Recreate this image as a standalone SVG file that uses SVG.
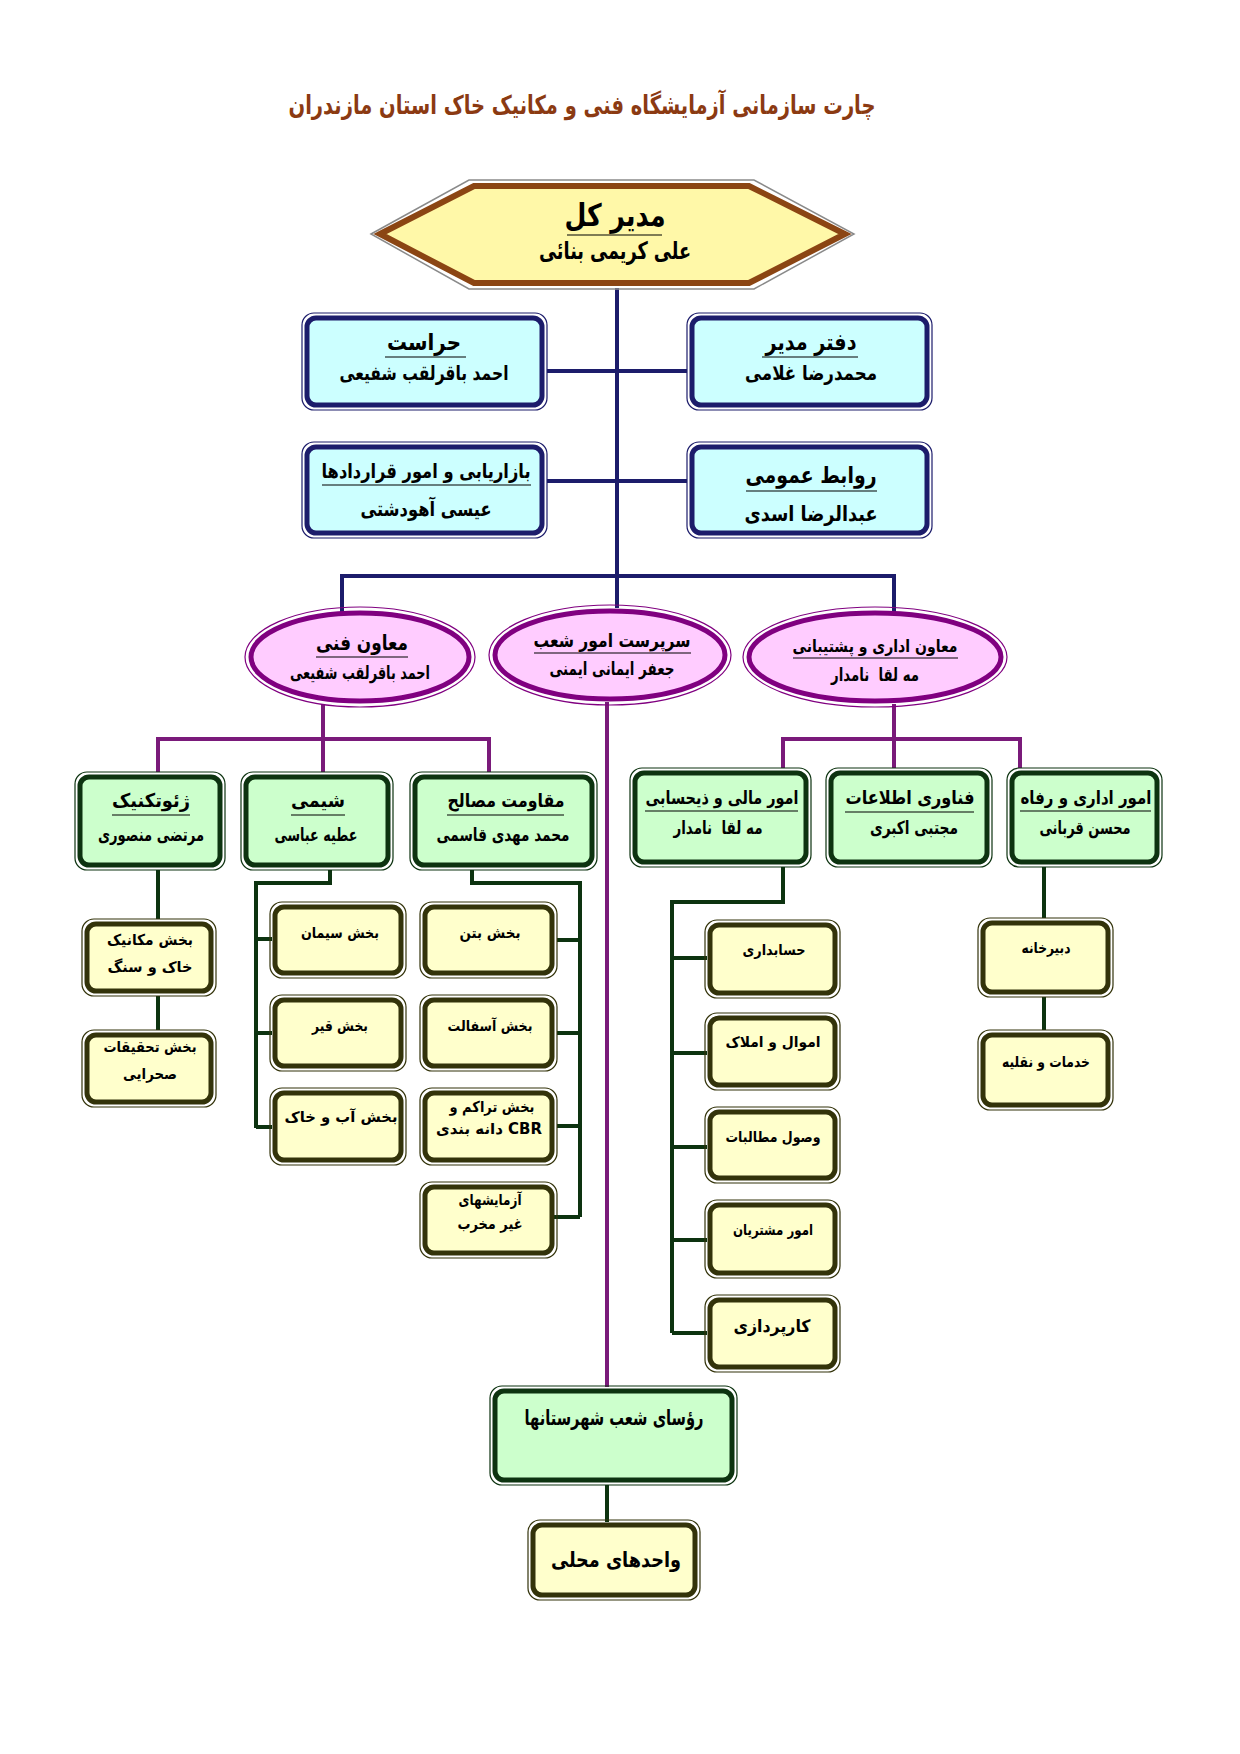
<svg xmlns="http://www.w3.org/2000/svg" width="1240" height="1754" viewBox="0 0 1240 1754">
<style>
.t{font-family:"DejaVu Sans",sans-serif;font-weight:bold;text-anchor:middle;fill:#000}
.ttl{font-size:26px;fill:#8b3a12}
.nv{stroke:#1c1c6b;stroke-width:4;fill:none}
.pu{stroke:#7a1a7a;stroke-width:4;fill:none}
.gr{stroke:#0d3310;stroke-width:4;fill:none}
.ul{stroke:#000;stroke-width:1.2}
.bo{fill:none;stroke:#1c1c6b;stroke-width:1.2}
.bi{fill:#ccffff;stroke:#1c1c6b;stroke-width:5}
.go{fill:none;stroke:#0d3310;stroke-width:1.2}
.gi{fill:#ccffcc;stroke:#0d3310;stroke-width:5}
.yo{fill:none;stroke:#33330a;stroke-width:1.2}
.yi{fill:#ffffcc;stroke:#33330a;stroke-width:5}
.po{fill:none;stroke:#800080;stroke-width:1.2}
.pi{fill:#ffccff;stroke:#800080;stroke-width:5}
.ho{fill:none;stroke:#8a8a8a;stroke-width:1.5}
.hi{fill:#fff8a8;stroke:#8b4513;stroke-width:6}
.s14{font-size:15px}
</style>
<rect width="1240" height="1754" fill="#fff"/>
<text class="t ttl" x="582" y="114" textLength="587" lengthAdjust="spacingAndGlyphs">چارت سازمانی آزمایشگاه فنی و مکانیک خاک استان مازندران</text>

<g id="connectors">
<path class="nv" d="M617 288V576M547 371H687M547 481H687M342 576H894M342 574V612M617 574V608M894 574V612"/>
<path class="pu" d="M323 704V739M158 739H489M158 737V772M323 737V772M489 737V772M607 702V1387M894 704V739M783 739H1020M783 737V768M894 737V768M1020 737V768"/>
<path class="gr" d="M158 870V919M158 996V1030M330 870V883H256V1128M256 939H272M256 1033H272M256 1127H272M472 870V883H580V1217M580 940H557M580 1033H557M580 1126H557M580 1217H552M783 867V902H672V1333M672 958H707M672 1053H707M672 1147H707M672 1240H707M672 1333H707M1044 867V918M1044 997V1030M607 1485V1522"/>
</g>

<g id="modir-kol">
<polygon class="ho" points="371,234 469,180 754,180 854,234 754,289 469,289"/>
<polygon class="hi" points="380,234 474,186 749,186 845,234 749,283 474,283"/>
<text class="t" x="615" y="226" font-size="31" textLength="101" lengthAdjust="spacingAndGlyphs">مدیر کل</text>
<line class="ul" x1="567" y1="235" x2="662" y2="235"/>
<text class="t" x="615" y="259" font-size="24" textLength="152" lengthAdjust="spacingAndGlyphs">علی کریمی بنائی</text>
</g>

<g id="herasat">
<rect class="bo" x="302" y="313" width="245" height="97" rx="12"/>
<rect class="bi" x="307" y="318" width="235" height="87" rx="9"/>
<text class="t" x="424" y="350" font-size="23" textLength="74" lengthAdjust="spacingAndGlyphs">حراست</text>
<line class="ul" x1="385" y1="357" x2="466" y2="357"/>
<text class="t" x="424" y="380" font-size="20" textLength="169" lengthAdjust="spacingAndGlyphs">احمد باقرلقب شفیعی</text>
</g>

<g id="daftar-modir">
<rect class="bo" x="687" y="313" width="245" height="97" rx="12"/>
<rect class="bi" x="692" y="318" width="235" height="87" rx="9"/>
<text class="t" x="811" y="350" font-size="23" textLength="91" lengthAdjust="spacingAndGlyphs">دفتر مدیر</text>
<line class="ul" x1="762" y1="357" x2="858" y2="357"/>
<text class="t" x="811" y="380" font-size="20" textLength="132" lengthAdjust="spacingAndGlyphs">محمدرضا غلامی</text>
</g>

<g id="bazaryabi">
<rect class="bo" x="302" y="442" width="245" height="96" rx="12"/>
<rect class="bi" x="307" y="447" width="235" height="86" rx="9"/>
<text class="t" x="426" y="478" font-size="20" textLength="209" lengthAdjust="spacingAndGlyphs">بازاریابی و امور قراردادها</text>
<line class="ul" x1="322" y1="485" x2="531" y2="485"/>
<text class="t" x="426" y="516" font-size="20" textLength="131" lengthAdjust="spacingAndGlyphs">عیسی آهودشتی</text>
</g>

<g id="ravabet">
<rect class="bo" x="687" y="442" width="245" height="96" rx="12"/>
<rect class="bi" x="692" y="447" width="235" height="86" rx="9"/>
<text class="t" x="811" y="483" font-size="23" textLength="131" lengthAdjust="spacingAndGlyphs">روابط عمومی</text>
<line class="ul" x1="746" y1="491" x2="877" y2="491"/>
<text class="t" x="811" y="521" font-size="21" textLength="133" lengthAdjust="spacingAndGlyphs">عبدالرضا اسدی</text>
</g>

<g id="moaven-fanni">
<ellipse class="po" cx="360" cy="657" rx="115" ry="50"/>
<ellipse class="pi" cx="360" cy="657" rx="109" ry="44"/>
<text class="t" x="362" y="650" font-size="21" textLength="92" lengthAdjust="spacingAndGlyphs">معاون فنی</text>
<line class="ul" x1="316" y1="657" x2="408" y2="657"/>
<text class="t" x="360" y="679" font-size="18" textLength="140" lengthAdjust="spacingAndGlyphs">احمد باقرلقب شفیعی</text>
</g>

<g id="sarparast">
<ellipse class="po" cx="610" cy="655" rx="121" ry="50"/>
<ellipse class="pi" cx="610" cy="655" rx="115" ry="44"/>
<text class="t" x="612" y="647" font-size="19" textLength="157" lengthAdjust="spacingAndGlyphs">سرپرست امور شعب</text>
<line class="ul" x1="534" y1="653" x2="691" y2="653"/>
<text class="t" x="612" y="675" font-size="18" textLength="125" lengthAdjust="spacingAndGlyphs">جعفر ایمانی ایمنی</text>
</g>

<g id="moaven-edari">
<ellipse class="po" cx="875" cy="657" rx="132" ry="50"/>
<ellipse class="pi" cx="875" cy="657" rx="126" ry="44"/>
<text class="t" x="875" y="652" font-size="17" textLength="165" lengthAdjust="spacingAndGlyphs">معاون اداری  و پشتیبانی</text>
<line class="ul" x1="793" y1="658" x2="958" y2="658"/>
<text class="t" x="875" y="681" font-size="18" xml:space="preserve" textLength="88" lengthAdjust="spacingAndGlyphs">مه لقا  نامدار</text>
</g>

<g id="geotechnic">
<rect class="go" x="75" y="772" width="150" height="98" rx="12"/>
<rect class="gi" x="80" y="777" width="140" height="88" rx="9"/>
<text class="t" x="151" y="807" font-size="19" textLength="78" lengthAdjust="spacingAndGlyphs">ژئوتکنیک</text>
<line class="ul" x1="112" y1="815" x2="190" y2="815"/>
<text class="t" x="151" y="841" font-size="18" textLength="106" lengthAdjust="spacingAndGlyphs">مرتضی منصوری</text>
</g>

<g id="shimi">
<rect class="go" x="241" y="772" width="152" height="98" rx="12"/>
<rect class="gi" x="246" y="777" width="142" height="88" rx="9"/>
<text class="t" x="318" y="807" font-size="19" textLength="54" lengthAdjust="spacingAndGlyphs">شیمی</text>
<line class="ul" x1="291" y1="815" x2="345" y2="815"/>
<text class="t" x="316" y="841" font-size="18" textLength="83" lengthAdjust="spacingAndGlyphs">عطیه عباسی</text>
</g>

<g id="moghavemat">
<rect class="go" x="410" y="772" width="187" height="98" rx="12"/>
<rect class="gi" x="415" y="777" width="177" height="88" rx="9"/>
<text class="t" x="506" y="807" font-size="19" textLength="117" lengthAdjust="spacingAndGlyphs">مقاومت مصالح</text>
<line class="ul" x1="447" y1="815" x2="564" y2="815"/>
<text class="t" x="503" y="841" font-size="18" textLength="133" lengthAdjust="spacingAndGlyphs">محمد مهدی قاسمی</text>
</g>

<g id="mali">
<rect class="go" x="630" y="768" width="181" height="99" rx="12"/>
<rect class="gi" x="635" y="773" width="171" height="89" rx="9"/>
<text class="t" x="722" y="804" font-size="18" textLength="153" lengthAdjust="spacingAndGlyphs">امور مالی و ذیحسابی</text>
<line class="ul" x1="645" y1="811" x2="798" y2="811"/>
<text class="t" x="718" y="834" font-size="18" xml:space="preserve" textLength="89" lengthAdjust="spacingAndGlyphs">مه لقا  نامدار</text>
</g>

<g id="fanavari">
<rect class="go" x="826" y="768" width="166" height="99" rx="12"/>
<rect class="gi" x="831" y="773" width="156" height="89" rx="9"/>
<text class="t" x="910" y="804" font-size="19" textLength="129" lengthAdjust="spacingAndGlyphs">فناوری اطلاعات</text>
<line class="ul" x1="845" y1="812" x2="974" y2="812"/>
<text class="t" x="914" y="834" font-size="18" textLength="88" lengthAdjust="spacingAndGlyphs">مجتبی اکبری</text>
</g>

<g id="edari-refah">
<rect class="go" x="1007" y="768" width="155" height="99" rx="12"/>
<rect class="gi" x="1012" y="773" width="145" height="89" rx="9"/>
<text class="t" x="1086" y="804" font-size="18" textLength="131" lengthAdjust="spacingAndGlyphs">امور اداری و رفاه</text>
<line class="ul" x1="1020" y1="811" x2="1151" y2="811"/>
<text class="t" x="1085" y="834" font-size="18" textLength="91" lengthAdjust="spacingAndGlyphs">محسن قربانی</text>
</g>

<g id="mechanic">
<rect class="yo" x="82" y="919" width="134" height="77" rx="12"/>
<rect class="yi" x="87" y="924" width="124" height="67" rx="9"/>
<text class="t s14" x="150" y="945" textLength="86" lengthAdjust="spacingAndGlyphs">بخش مکانیک</text>
<text class="t s14" x="150" y="972" textLength="85" lengthAdjust="spacingAndGlyphs">خاک و سنگ</text>
</g>

<g id="sahrai">
<rect class="yo" x="82" y="1030" width="134" height="77" rx="12"/>
<rect class="yi" x="87" y="1035" width="124" height="67" rx="9"/>
<text class="t s14" x="150" y="1052" textLength="93" lengthAdjust="spacingAndGlyphs">بخش تحقیقات</text>
<text class="t s14" x="150" y="1079" textLength="54" lengthAdjust="spacingAndGlyphs">صحرایی</text>
</g>

<g id="siman">
<rect class="yo" x="270" y="902" width="136" height="76" rx="12"/>
<rect class="yi" x="275" y="907" width="126" height="66" rx="9"/>
<text class="t s14" x="340" y="938" textLength="78" lengthAdjust="spacingAndGlyphs">بخش سیمان</text>
</g>

<g id="ghir">
<rect class="yo" x="270" y="995" width="136" height="76" rx="12"/>
<rect class="yi" x="275" y="1000" width="126" height="66" rx="9"/>
<text class="t s14" x="340" y="1031" textLength="56" lengthAdjust="spacingAndGlyphs">بخش قیر</text>
</g>

<g id="ab-khak">
<rect class="yo" x="270" y="1088" width="136" height="77" rx="12"/>
<rect class="yi" x="275" y="1093" width="126" height="67" rx="9"/>
<text class="t s14" x="341" y="1122" textLength="113" lengthAdjust="spacingAndGlyphs">بخش آب و خاک</text>
</g>

<g id="beton">
<rect class="yo" x="420" y="902" width="137" height="76" rx="12"/>
<rect class="yi" x="425" y="907" width="127" height="66" rx="9"/>
<text class="t s14" x="490" y="938" textLength="61" lengthAdjust="spacingAndGlyphs">بخش بتن</text>
</g>

<g id="asphalt">
<rect class="yo" x="420" y="995" width="137" height="76" rx="12"/>
<rect class="yi" x="425" y="1000" width="127" height="66" rx="9"/>
<text class="t s14" x="490" y="1031" textLength="85" lengthAdjust="spacingAndGlyphs">بخش آسفالت</text>
</g>

<g id="tarakom">
<rect class="yo" x="420" y="1088" width="137" height="77" rx="12"/>
<rect class="yi" x="425" y="1093" width="127" height="67" rx="9"/>
<text class="t s14" x="492" y="1112" textLength="85" lengthAdjust="spacingAndGlyphs">بخش تراکم و</text>
<text class="t s14" x="489" y="1134" textLength="106" lengthAdjust="spacingAndGlyphs">دانه بندی CBR</text>
</g>

<g id="azmayesh">
<rect class="yo" x="420" y="1182" width="137" height="76" rx="12"/>
<rect class="yi" x="425" y="1187" width="127" height="66" rx="9"/>
<text class="t s14" x="490" y="1205" textLength="63" lengthAdjust="spacingAndGlyphs">آزمایشهای</text>
<text class="t s14" x="490" y="1229" textLength="65" lengthAdjust="spacingAndGlyphs">غیر مخرب</text>
</g>

<g id="hesabdari">
<rect class="yo" x="705" y="920" width="135" height="78" rx="12"/>
<rect class="yi" x="710" y="925" width="125" height="68" rx="9"/>
<text class="t s14" x="774" y="955" textLength="63" lengthAdjust="spacingAndGlyphs">حسابداری</text>
</g>

<g id="amval">
<rect class="yo" x="705" y="1013" width="135" height="77" rx="12"/>
<rect class="yi" x="710" y="1018" width="125" height="67" rx="9"/>
<text class="t s14" x="773" y="1047" textLength="95" lengthAdjust="spacingAndGlyphs">اموال و املاک</text>
</g>

<g id="vosool">
<rect class="yo" x="705" y="1107" width="135" height="76" rx="12"/>
<rect class="yi" x="710" y="1112" width="125" height="66" rx="9"/>
<text class="t s14" x="773" y="1142" textLength="95" lengthAdjust="spacingAndGlyphs">وصول مطالبات</text>
</g>

<g id="moshtarian">
<rect class="yo" x="705" y="1200" width="135" height="78" rx="12"/>
<rect class="yi" x="710" y="1205" width="125" height="68" rx="9"/>
<text class="t s14" x="773" y="1235" textLength="80" lengthAdjust="spacingAndGlyphs">امور مشتریان</text>
</g>

<g id="karpardazi">
<rect class="yo" x="705" y="1295" width="135" height="77" rx="12"/>
<rect class="yi" x="710" y="1300" width="125" height="67" rx="9"/>
<text class="t" x="772" y="1332" font-size="17" textLength="77" lengthAdjust="spacingAndGlyphs">کارپردازی</text>
</g>

<g id="dabirkhaneh">
<rect class="yo" x="978" y="918" width="135" height="79" rx="12"/>
<rect class="yi" x="983" y="923" width="125" height="69" rx="9"/>
<text class="t s14" x="1046" y="953" textLength="49" lengthAdjust="spacingAndGlyphs">دبیرخانه</text>
</g>

<g id="khadamat">
<rect class="yo" x="978" y="1030" width="135" height="80" rx="12"/>
<rect class="yi" x="983" y="1035" width="125" height="70" rx="9"/>
<text class="t s14" x="1046" y="1067" textLength="88" lengthAdjust="spacingAndGlyphs">خدمات و نقلیه</text>
</g>

<g id="roasa">
<rect class="go" x="490" y="1386" width="247" height="99" rx="12"/>
<rect class="gi" x="495" y="1391" width="237" height="89" rx="9"/>
<text class="t" x="614" y="1425" font-size="21" textLength="179" lengthAdjust="spacingAndGlyphs">رؤسای شعب شهرستانها</text>
</g>

<g id="vahed-mahalli">
<rect class="yo" x="528" y="1520" width="172" height="80" rx="12"/>
<rect class="yi" x="533" y="1525" width="162" height="70" rx="9"/>
<text class="t" x="616" y="1567" font-size="21" textLength="130" lengthAdjust="spacingAndGlyphs">واحدهای محلی</text>
</g>
</svg>
